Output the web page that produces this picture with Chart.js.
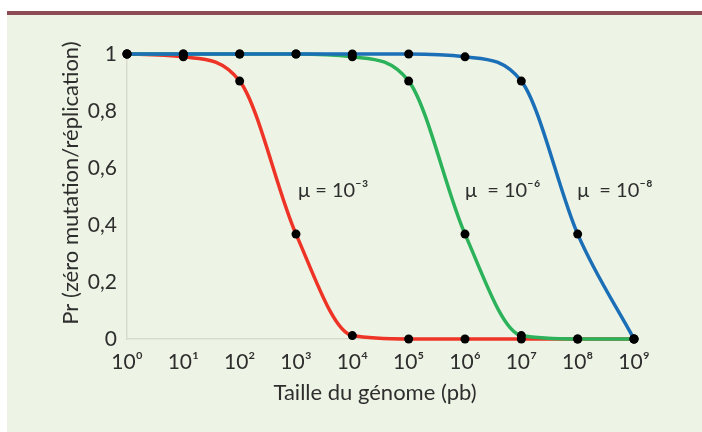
<!DOCTYPE html>
<html lang="fr">
<head>
<meta charset="utf-8"/>
<title>Pr (zéro mutation/réplication)</title>
<script src="https://cdn.jsdelivr.net/npm/chart.js"></script>
<style>
  body { margin: 0; background: #fff; }
  #wrap { position: relative; width: 702px; height: 432px; overflow: hidden; }
  #panel { position: absolute; left: 7px; top: 15px; right: 0; bottom: 0; background: #eef4e5; }
  #bar { position: absolute; left: 7px; top: 11px; right: 0; height: 4px; background: #8d4b55; }
  canvas { position: absolute; left: 0; top: 0; }
</style>
</head>
<body>
<div id="wrap">
  <div id="panel"></div>
  <div id="bar"></div>
  <canvas id="chart" width="702" height="432"></canvas>
</div>
<script>
// genome sizes (pb), one point per decade
const genomeSizes = [1, 10, 100, 1e3, 1e4, 1e5, 1e6, 1e7, 1e8, 1e9];
const xTickLabels = ['10⁰', '10¹', '10²', '10³', '10⁴', '10⁵', '10⁶', '10⁷', '10⁸', '10⁹'];
const yTickLabels = ['0', '0,2', '0,4', '0,6', '0,8', '1'];

// Pr(zero mutation / replication)
const prMu3 = [1, 0.99, 0.905, 0.368, 0.012, 0, 0, 0, 0, 0];
const prMu6 = [1, 1, 1, 1, 0.99, 0.905, 0.368, 0.012, 0, 0];
const prMu8 = [1, 1, 1, 1, 1, 1, 0.99, 0.905, 0.368, 0];
const seriesLabels = ['μ = 10⁻³', 'μ  = 10⁻⁶', 'μ  = 10⁻⁸'];

const FONT = 'Lato, "Open Sans", "DejaVu Sans", sans-serif';
const TEXT = '#2e2e2e';

function toXY(vals) {
  return vals.map((v, i) => ({ x: genomeSizes[i], y: v }));
}

function lineSet(vals, color) {
  return {
    data: toXY(vals), borderColor: color, borderWidth: 3.5,
    pointRadius: 0, cubicInterpolationMode: 'monotone', fill: false, clip: false
  };
}

function pointSet(vals) {
  return {
    data: toXY(vals), showLine: false, pointRadius: 4.5,
    pointBackgroundColor: '#000', pointBorderWidth: 0, clip: false
  };
}

// where each μ label sits (data coordinates of its left baseline)
const labelAnchors = [
  { x: 1090, y: 0.5 },
  { x: 1.0e6, y: 0.5 },
  { x: 0.98e8, y: 0.5 }
];

const textPlugin = {
  id: 'texts',
  afterDraw(chart) {
    const ctx = chart.ctx;
    const xs = chart.scales.x, ys = chart.scales.y;
    ctx.save();
    ctx.fillStyle = TEXT;
    ctx.font = '20px ' + FONT;
    ctx.textAlign = 'left';
    ctx.textBaseline = 'alphabetic';
    seriesLabels.forEach((t, i) => {
      const a = labelAnchors[i];
      ctx.fillText(t, xs.getPixelForValue(a.x), ys.getPixelForValue(a.y));
    });
    // axis titles
    ctx.font = '22px ' + FONT;
    ctx.textAlign = 'center';
    ctx.fillText('Taille du génome (pb)', 375, 400);
    ctx.translate(78, 183);
    ctx.rotate(-Math.PI / 2);
    ctx.fillText('Pr (zéro mutation/réplication)', 0, 0);
    ctx.restore();
  }
};

new Chart(document.getElementById('chart'), {
  type: 'line',
  data: {
    datasets: [
      pointSet(prMu8), pointSet(prMu6), pointSet(prMu3),
      lineSet(prMu8, '#1b6fb7'),
      lineSet(prMu6, '#2cb25a'),
      lineSet(prMu3, '#ee3426')
    ]
  },
  options: {
    responsive: false,
    animation: false,
    layout: { padding: { top: 54, right: 68, bottom: 0, left: 0 } },
    plugins: { legend: { display: false }, tooltip: { enabled: false } },
    scales: {
      x: {
        type: 'logarithmic', min: 1, max: 1e9,
        afterBuildTicks(scale) { scale.ticks = genomeSizes.map(v => ({ value: v })); },
        afterFit(scale) { scale.height = 93; },
        grid: { color: 'transparent', drawTicks: false },
        border: { color: '#d7dbd1', width: 1.5 },
        ticks: {
          autoSkip: false, maxRotation: 0, padding: 11, color: TEXT,
          font: { family: FONT, size: 21 },
          callback: (v, i) => xTickLabels[i]
        }
      },
      y: {
        min: 0, max: 1,
        ticks: {
          stepSize: 0.2, padding: 10, color: TEXT,
          font: { family: FONT, size: 21 },
          callback: (v, i) => yTickLabels[i]
        },
        afterFit(scale) { scale.width = 127; },
        grid: { color: 'transparent', drawTicks: false },
        border: { color: '#d7dbd1', width: 1.5 }
      }
    }
  },
  plugins: [textPlugin]
});
</script>
</body>
</html>
